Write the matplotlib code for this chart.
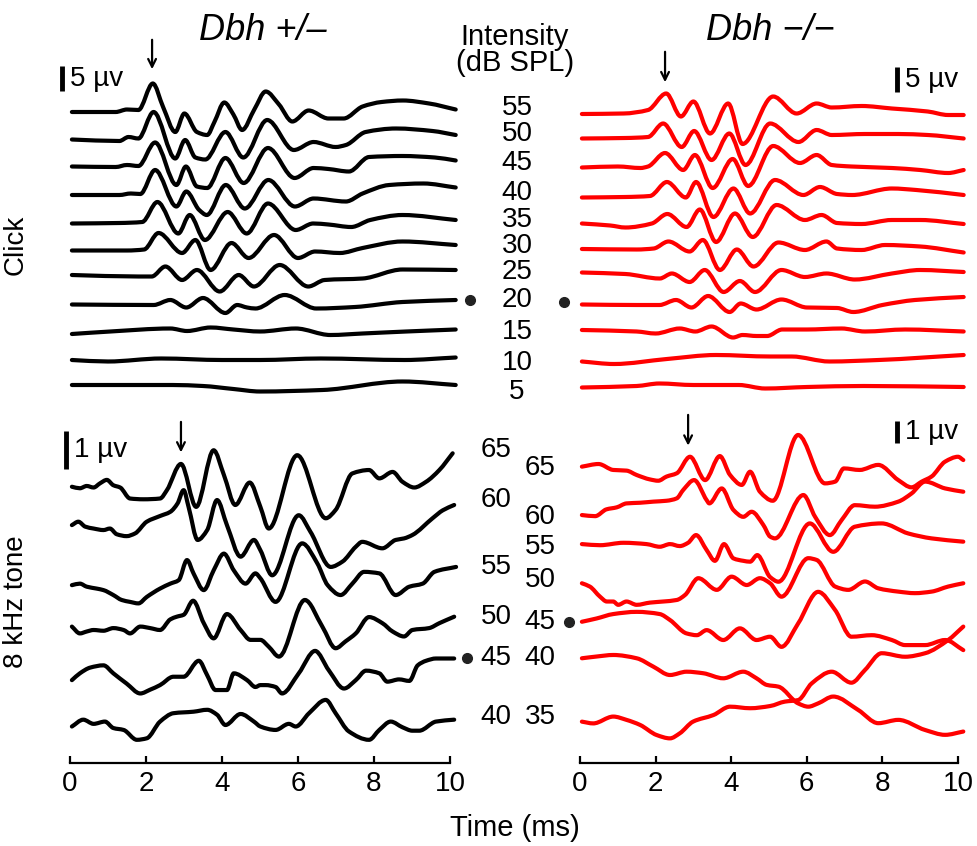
import matplotlib.pyplot as plt
import numpy as np
from matplotlib.path import Path
from matplotlib.patches import PathPatch

plt.rcParams['font.family'] = ['Liberation Sans', 'DejaVu Sans']

# ABR traces: (time in ms, amplitude in uV relative to the trace start)
click_levels = [55, 50, 45, 40, 35, 30, 25, 20, 15, 10, 5]
click_het = [
    [(0.05, 0), (1.2, 0), (1.5, 0.5), (1.8, 0.4), (2.18, 5.7), (2.45, 1.0), (2.77, -4.0), (3.01, -0.3), (3.34, -4.0), (3.61, -4.6), (3.8, -2.0), (4.06, 1.9), (4.3, -0.5), (4.53, -3.6), (4.85, 0.5), (5.15, 4.1), (5.5, 1.5), (5.85, -1.9), (6.28, 0.3), (6.8, -1.3), (7.2, -1.3), (7.7, 1.1), (8.2, 2.0), (8.76, 2.3), (9.45, 1.7), (10.15, 0.5)],
    [(0.05, 0), (1.3, -0.3), (1.54, 0.5), (1.8, 0.2), (2.2, 5.5), (2.77, -3.8), (3.03, -0.1), (3.3, -3.6), (3.56, -4.0), (4.09, 1.5), (4.56, -3.6), (5.19, 3.9), (5.89, -2.1), (6.41, -0.5), (6.99, -1.5), (7.26, -1.1), (7.78, 1.5), (8.58, 2.2), (9.54, 1.7), (10.15, 0.9)],
    [(0.05, 0), (1.2, -0.1), (1.5, 0.3), (1.8, 0.1), (2.24, 4.8), (2.8, -3.7), (3.05, 0), (3.34, -4.0), (3.61, -4.3), (4.09, 1.7), (4.57, -3.3), (5.21, 3.7), (5.91, -2.3), (6.41, -0.3), (6.8, -0.5), (7.34, -1.0), (7.87, 1.9), (8.75, 2.1), (9.6, 1.8), (10.15, 1.2)],
    [(0.05, 0), (1.3, 0), (1.6, 0.3), (1.85, 0.2), (2.24, 5.0), (2.8, -2.3), (3.06, 0.7), (3.4, -3.0), (3.6, -4.0), (4.1, 2.0), (4.6, -2.7), (5.22, 3.0), (5.92, -2.3), (6.41, -0.7), (7.26, -1.3), (7.7, 0.3), (8.4, 2.0), (9.3, 2.3), (10.15, 1.5)],
    [(0.05, 0), (1.3, 0.1), (1.9, 0.3), (2.3, 4.3), (2.85, -2.0), (3.15, 1.7), (3.55, -3.3), (4.15, 2.3), (4.65, -2.0), (5.21, 4.0), (5.94, -1.3), (6.4, 0), (6.8, -0.2), (7.4, -0.7), (7.9, 0.7), (8.75, 1.7), (10.15, 0.7)],
    [(0.05, 0), (1.5, 0), (1.95, 0.2), (2.33, 3.5), (2.95, -0.5), (3.3, 2.1), (3.7, -3.9), (4.25, 1.5), (4.7, -1.5), (5.37, 3.1), (6.0, -1.5), (6.45, -0.2), (7.1, -0.5), (7.7, 0.5), (8.75, 1.8), (10.15, 1.1)],
    [(0.05, 0), (1.8, -0.3), (2.15, -0.3), (2.51, 1.7), (2.95, -1.0), (3.34, 1.0), (3.94, -3.3), (4.44, 0), (4.84, -2.3), (5.52, 2.0), (6.27, -2.3), (6.7, -1.0), (7.7, -0.7), (8.75, 1.1), (10.15, 1.0)],
    [(0.05, 0), (2.2, -0.1), (2.64, 0.9), (3.06, -0.6), (3.5, 1.3), (4.09, -1.7), (4.4, -0.1), (4.66, -0.6), (4.88, -0.8), (5.65, 1.9), (6.48, -0.8), (7.5, -0.5), (8.75, 0.5), (10.15, 0.9)],
    [(0.05, 0), (1.06, 0.5), (2.64, 1.1), (3.08, 0.6), (3.7, 1.3), (4.3, 0.9), (5.0, 0.5), (5.94, 1.1), (6.85, -0.2), (7.7, 0.1), (8.85, 0.5), (10.15, 0.9)],
    [(0.05, 0), (1.0, -0.3), (2.4, 0.3), (4.0, 0), (5.0, 0), (6.6, 0.3), (8.8, 0), (10.15, 0.5)],
    [(0.05, 0), (2.7, 0), (3.5, -0.2), (4.3, -0.8), (5.0, -1.3), (6.64, -1.0), (8.75, 0.7), (10.15, 0)],
]
click_ko = [
    [(0.05, 0), (1.15, 0.1), (1.8, 0.8), (2.28, 4.1), (2.67, -0.5), (3.0, 2.5), (3.44, -3.9), (3.92, 2.1), (4.3, -6.0), (5.11, 3.5), (5.73, 0.1), (6.26, 2.1), (6.66, 1.3), (7.45, 1.6), (8.25, 1.1), (9.2, 0.5), (9.74, -0.2), (10.15, -0.2)],
    [(0.05, 0), (1.2, 0.1), (1.8, 0.3), (2.2, 3.0), (2.69, -1.7), (3.02, 1.5), (3.48, -4.3), (3.95, 1.0), (4.38, -5.3), (5.03, 3.0), (5.78, -0.7), (6.26, 1.7), (6.66, 0.7), (7.54, 0.9), (8.42, 0.9), (9.2, 0.7), (10.15, 0)],
    [(0.05, 0), (1.0, 0.2), (1.6, -0.1), (1.8, 0.2), (2.25, 2.9), (2.73, -0.5), (3.04, 2.5), (3.51, -4.1), (4.04, 1.7), (4.45, -3.7), (5.11, 4.3), (5.82, 0.9), (6.26, 2.5), (6.66, 0.5), (7.18, 0.2), (8.25, -0.1), (9.0, -0.5), (9.74, -1.1), (10.15, -0.5)],
    [(0.05, 0), (1.2, 0.1), (1.85, 0.3), (2.3, 3.1), (2.8, 0), (3.07, 3.1), (3.53, -3.9), (4.06, 1.8), (4.5, -3.2), (5.16, 3.5), (5.91, 0.5), (6.35, 2.1), (6.8, 0.7), (7.2, 0.5), (8.25, 1.8), (8.9, 1.5), (10.15, 0.5)],
    [(0.05, 0), (0.8, -0.4), (1.2, -0.8), (1.9, 0), (2.31, 1.9), (2.82, -0.7), (3.17, 2.8), (3.6, -3.7), (4.1, 2.0), (4.57, -2.7), (5.2, 3.7), (5.95, 0.7), (6.39, 1.7), (6.8, 0.1), (7.45, -0.1), (8.25, 0.7), (9.0, 0.7), (10.15, -0.1)],
    [(0.05, 0), (1.5, -0.1), (1.95, 0.1), (2.34, 1.5), (2.9, -0.5), (3.25, 1.8), (3.7, -4.2), (4.15, -0.1), (4.59, -3.5), (5.25, 1.3), (5.95, -0.2), (6.52, 1.5), (6.8, 0.1), (7.45, -0.2), (8.07, 0.8), (9.0, 0.5), (10.15, -0.7)],
    [(0.05, 0), (1.2, -0.3), (2.11, -1.2), (2.43, -0.2), (2.9, -1.9), (3.3, 0.5), (3.8, -3.9), (4.23, -1.7), (4.63, -3.9), (5.33, 0.5), (5.95, -0.9), (6.52, -0.2), (7.27, -1.4), (8.25, -0.2), (9.0, 0.5), (10.15, 0.1)],
    [(0.05, 0), (1.5, -0.1), (2.1, -0.1), (2.54, 0.9), (2.95, -0.6), (3.39, 1.7), (3.96, -1.5), (4.25, 0.2), (4.67, -1.0), (5.33, 1.0), (6.0, -0.6), (6.8, -0.7), (7.23, -1.5), (8.0, -0.1), (8.86, 0.9), (10.15, 1.5)],
    [(0.05, 0), (1.5, -0.3), (2.0, -0.7), (2.64, 0.3), (3.05, -0.3), (3.48, 0.7), (4.05, -1.5), (4.3, -1.0), (4.67, -1.2), (4.95, -1.2), (5.35, 0.1), (6.0, 0.1), (6.92, 0.3), (7.54, -0.3), (8.6, 0.1), (10.15, -0.3)],
    [(0.05, 0), (0.9, -0.5), (2.3, 0.5), (3.6, 1.3), (5.03, 1.0), (5.6, 1.0), (6.6, 0), (7.9, 0.3), (10.15, 1.3)],
    [(0.05, 0), (1.5, 0.3), (2.1, 0.8), (3.0, 0.5), (4.2, 0.5), (4.9, -0.2), (6.0, 0.1), (7.5, 0.3), (10.15, 0.1)],
]

tone_het_levels = [65, 60, 55, 50, 45, 40]
tone_het = [
    [(0.05, 0), (0.26, -0.04), (0.44, 0.02), (0.62, -0.02), (0.79, 0.09), (0.97, 0.18), (1.14, 0.04), (1.32, -0.02), (1.58, -0.31), (1.93, -0.33), (2.37, -0.31), (2.55, -0.09), (2.92, 0.6), (3.32, -0.53), (3.78, 0.96), (4.05, 0.31), (4.35, -0.48), (4.73, 0.11), (5.01, -0.53), (5.23, -1.10), (5.98, 0.83), (6.73, -0.83), (6.99, -0.61), (7.43, 0.35), (7.87, 0.44), (8.14, 0.22), (8.49, 0.39), (8.75, 0.13), (9.06, -0.02), (9.37, 0.13), (9.72, 0.44), (10.07, 0.88)],
    [(0.05, 0), (0.22, 0.09), (0.40, -0.04), (0.62, -0.09), (0.88, -0.13), (1.05, -0.09), (1.23, -0.24), (1.49, -0.29), (1.71, -0.22), (2.02, 0.09), (2.37, 0.24), (2.64, 0.35), (2.83, 0.57), (2.99, 0.92), (3.12, 0.48), (3.36, -0.39), (3.61, -0.13), (3.87, 0.66), (4.13, 0), (4.49, -0.83), (4.84, -0.39), (5.01, -0.66), (5.32, -1.32), (6.02, 0.26), (6.33, -0.18), (6.86, -1.10), (7.17, -0.96), (7.52, -0.57), (7.69, -0.44), (8.22, -0.61), (8.57, -0.39), (8.79, -0.35), (9.01, -0.26), (9.54, 0.18), (9.81, 0.39), (10.11, 0.53)],
    [(0.05, 0), (0.26, 0.04), (0.44, -0.04), (0.70, -0.09), (0.88, -0.13), (1.14, -0.26), (1.36, -0.39), (1.58, -0.44), (1.80, -0.48), (2.02, -0.31), (2.37, -0.09), (2.64, 0.04), (2.86, 0.13), (3.08, 0.66), (3.25, 0.31), (3.52, -0.13), (3.78, 0.39), (4.05, 0.83), (4.31, 0.39), (4.62, 0.04), (4.88, 0.31), (5.01, 0.18), (5.41, -0.44), (6.11, 1.10), (6.51, 0.57), (6.78, 0), (7.12, -0.26), (7.43, 0.04), (7.74, 0.35), (8.14, 0.31), (8.57, -0.26), (8.93, -0.04), (9.28, 0.04), (9.59, 0.35), (10.16, 0.48)],
    [(0.05, 0), (0.26, -0.18), (0.44, -0.13), (0.62, -0.09), (0.88, -0.11), (1.14, -0.04), (1.41, -0.09), (1.58, -0.18), (1.85, 0), (2.11, -0.04), (2.37, -0.09), (2.64, 0.19), (2.81, 0.26), (2.99, 0.31), (3.24, 0.68), (3.52, 0.09), (3.78, -0.31), (4.13, 0.33), (4.49, -0.09), (4.75, -0.35), (5.01, -0.35), (5.23, -0.53), (5.50, -0.79), (6.18, 0.70), (6.64, 0), (6.99, -0.57), (7.25, -0.39), (7.52, -0.18), (7.87, 0.25), (8.22, 0.09), (8.49, -0.13), (8.79, -0.26), (9.01, -0.09), (9.45, -0.04), (9.72, 0.09), (10.11, 0.26)],
    [(0.05, 0), (0.26, 0.18), (0.53, 0.33), (0.88, 0.39), (1.14, 0.18), (1.49, -0.09), (1.85, -0.35), (2.11, -0.25), (2.37, -0.13), (2.72, 0.09), (2.99, 0.09), (3.39, 0.51), (3.61, 0.13), (3.83, -0.26), (4.13, -0.26), (4.31, 0.18), (4.66, 0), (4.88, -0.18), (5.01, -0.13), (5.15, -0.13), (5.41, -0.18), (5.58, -0.35), (6.02, 0.18), (6.45, 0.77), (6.81, 0.26), (7.21, -0.22), (7.52, 0), (7.79, 0.25), (8.14, 0.18), (8.35, -0.04), (8.66, 0.02), (8.93, -0.02), (9.15, 0.39), (9.37, 0.51), (9.63, 0.57), (10.11, 0.57)],
    [(0.05, 0), (0.35, 0.18), (0.62, 0.07), (0.92, 0.13), (1.14, -0.04), (1.41, -0.09), (1.76, -0.35), (2.02, -0.31), (2.37, 0.13), (2.72, 0.35), (3.25, 0.39), (3.61, 0.44), (3.87, 0.31), (4.09, 0.04), (4.49, 0.33), (4.84, 0.13), (5.01, 0), (5.41, -0.09), (5.76, 0.07), (5.94, 0), (6.29, 0.35), (6.73, 0.70), (6.99, 0.35), (7.34, -0.13), (7.87, -0.35), (8.14, -0.09), (8.44, 0.13), (8.75, -0.02), (9.01, -0.11), (9.19, -0.11), (9.63, 0.13), (10.11, 0.18)],
]

tone_ko_levels = [65, 60, 55, 50, 45, 40, 35]
tone_ko = [
    [(0.05, 0), (0.49, 0.12), (0.88, -0.15), (1.23, -0.18), (1.5, -0.38), (1.85, -0.58), (2.07, -0.64), (2.29, -0.45), (2.56, -0.30), (2.91, 0.45), (3.31, -0.61), (3.70, 0.48), (3.97, -0.38), (4.28, -0.83), (4.50, -0.23), (4.76, -1.14), (5.1, -1.55), (5.77, 1.44), (6.48, -0.76), (6.75, -0.68), (6.98, -0.08), (7.4, -0.15), (7.89, 0.08), (8.42, -0.61), (8.77, -0.94), (9.04, -0.68), (9.30, -0.45), (9.66, 0.23), (10.0, 0.45), (10.14, 0.3)],
    [(0.05, 0), (0.40, -0.05), (0.70, 0.26), (0.97, 0.35), (1.23, 0.53), (1.59, 0.56), (1.94, 0.61), (2.29, 0.65), (2.56, 0.76), (2.73, 1.14), (3.02, 1.59), (3.35, 0.68), (3.42, 0.53), (3.75, 1.21), (4.06, 0.23), (4.32, -0.08), (4.54, 0.15), (4.85, -0.45), (5.03, -0.98), (5.16, -1.06), (5.91, 0.91), (6.22, -0.08), (6.61, -0.91), (6.92, -0.23), (7.27, 0.45), (7.8, 0.38), (8.42, 0.61), (8.77, 0.98), (9.13, 1.52), (9.66, 1.21), (10.14, 1.06)],
    [(0.05, 0), (0.53, -0.05), (1.15, 0.06), (1.76, 0), (2.11, -0.12), (2.38, 0), (2.64, -0.09), (2.86, 0.06), (3.07, 0.41), (3.35, -0.27), (3.57, -0.76), (3.81, 0), (4.06, -0.65), (4.32, -0.76), (4.50, -0.80), (4.69, -0.50), (5.03, -1.5), (5.25, -1.71), (6.08, 0.94), (6.70, -0.35), (7.27, 0.79), (7.98, 0.94), (8.69, 0.48), (9.30, 0.26), (10.14, 0.11)],
    [(0.05, 0), (0.26, -0.15), (0.53, -0.61), (0.71, -0.83), (0.88, -0.83), (1.01, -0.98), (1.23, -0.83), (1.50, -0.98), (1.85, -0.88), (2.20, -0.83), (2.56, -0.76), (2.78, -0.53), (3.13, 0.23), (3.62, -0.30), (4.01, 0.30), (4.41, -0.08), (4.76, 0.23), (5.03, 0), (5.33, -0.61), (6.04, 1.14), (6.26, 1.06), (6.75, -0.15), (7.1, -0.30), (7.54, 0.08), (7.89, -0.23), (8.42, -0.38), (8.86, -0.45), (9.3, -0.38), (9.74, -0.15), (10.14, 0)],
    [(0.05, 0), (0.44, 0.15), (0.88, 0.35), (1.50, 0.45), (2.11, 0.35), (2.38, 0.08), (2.82, -0.53), (3.09, -0.61), (3.35, -0.38), (3.79, -0.83), (4.23, -0.30), (4.67, -0.83), (5.03, -0.68), (5.33, -1.14), (5.77, -0.08), (6.3, 1.36), (6.75, 0.53), (7.18, -0.68), (7.72, -0.61), (8.25, -0.83), (8.6, -1.06), (9.13, -1.06), (9.66, -0.83), (10.14, -1.29)],
    [(0.05, 0), (0.44, 0.08), (0.88, 0.15), (1.5, 0), (1.94, -0.38), (2.38, -0.76), (2.82, -0.61), (3.26, -0.68), (3.79, -0.91), (4.32, -0.61), (4.67, -0.91), (4.94, -1.21), (5.25, -1.29), (5.77, -2.05), (6.04, -2.2), (6.3, -2.05), (6.7, -1.74), (7.36, -2.35), (7.89, -2.95), (8.42, -2.80), (9.13, -3.26), (9.66, -3.48), (10.14, -3.33)],
    [(0.05, 0), (0.35, -0.08), (0.88, 0.23), (1.23, 0.08), (1.59, -0.15), (2.03, -0.61), (2.38, -0.76), (2.64, -0.53), (2.99, 0), (3.53, 0.30), (3.97, 0.68), (4.50, 0.61), (5.03, 0.71), (5.42, 0.91), (5.77, 0.98), (6.13, 1.74), (6.66, 2.27), (7.18, 1.77), (7.54, 2.35), (7.98, 3.11), (8.6, 2.95), (9.13, 3.11), (9.74, 3.71), (10.14, 4.32)],
]

click_threshold = 20
tone_het_threshold = 45
tone_ko_threshold = 45

W, H = 978, 846
fig = plt.figure(figsize=(W / 100, H / 100), dpi=100)


def box(x0, x1, y0, y1):
    # pixel box -> figure fraction
    return [x0 / W, 1 - y1 / H, (x1 - x0) / W, (y1 - y0) / H]


def smooth_path(t, v):
    # cubic Bezier path through every read point (shape-preserving tangents)
    t = np.asarray(t, float)
    v = np.asarray(v, float)
    h = np.diff(t)
    d = np.diff(v) / h
    m = np.zeros_like(v)
    for k in range(1, len(v) - 1):
        if d[k - 1] * d[k] > 0:
            w1 = 2 * h[k] + h[k - 1]
            w2 = h[k] + 2 * h[k - 1]
            m[k] = (w1 + w2) / (w1 / d[k - 1] + w2 / d[k])
    m[0], m[-1] = d[0], d[-1]
    verts = [(t[0], v[0])]
    codes = [Path.MOVETO]
    for k in range(len(h)):
        verts += [(t[k] + h[k] / 3, v[k] + m[k] * h[k] / 3),
                  (t[k + 1] - h[k] / 3, v[k + 1] - m[k + 1] * h[k] / 3),
                  (t[k + 1], v[k + 1])]
        codes += [Path.CURVE4] * 3
    return Path(verts, codes)


# one axes per panel; y in uV with a fixed pixel scale per panel
ax_ch = fig.add_axes(box(70, 450, 40, 400))
ax_ck = fig.add_axes(box(580, 958, 40, 400))
ax_th = fig.add_axes(box(70, 450, 405, 763))
ax_tk = fig.add_axes(box(580, 958, 405, 763))
ax_ch.set_ylim(0, 360 / 5)
ax_ck.set_ylim(0, 360 / 5)
ax_th.set_ylim(0, 358 / 38)
ax_tk.set_ylim(0, 358 / 22)

# overlay in pixel coordinates for the labels in the middle
ov = fig.add_axes([0, 0, 1, 1])
ov.set_xlim(0, W)
ov.set_ylim(H, 0)
ov.axis('off')
ov.patch.set_alpha(0)

# trace baselines (uV above the panel bottom)
base_ch = [57.6, 52.1, 46.7, 41.0, 35.3, 29.9, 25.0, 19.1, 13.2, 8.0, 3.0]
base_ck = [57.2, 52.3, 46.5, 40.5, 35.3, 30.2, 25.5, 19.1, 14.0, 7.7, 2.5]
base_th = [7.27, 6.26, 4.68, 3.59, 2.18, 0.96]
base_tk = [13.47, 11.27, 9.95, 8.17, 6.42, 4.76, 1.88]

panels = [(ax_ch, click_het, base_ch, 'black'), (ax_ck, click_ko, base_ck, '#ff0000'),
          (ax_th, tone_het, base_th, 'black'), (ax_tk, tone_ko, base_tk, '#ff0000')]
for ax, traces, bases, col in panels:
    for trace, b in zip(traces, bases):
        t = [p[0] for p in trace]
        v = np.array([p[1] for p in trace]) + b
        ax.add_patch(PathPatch(smooth_path(t, v), fill=False, edgecolor=col, lw=3,
                               joinstyle='round', capstyle='round', clip_on=False))
    ax.set_xlim(0, 10)
    ax.patch.set_alpha(0)
    for s in ['left', 'right', 'top']:
        ax.spines[s].set_visible(False)
    ax.set_yticks([])

for ax in [ax_ch, ax_ck]:
    ax.spines['bottom'].set_visible(False)
    ax.set_xticks([])

for ax in [ax_th, ax_tk]:
    ax.spines['bottom'].set_linewidth(1.6)
    ax.set_xticks(range(0, 11, 2))
    ax.tick_params(axis='x', direction='in', length=5, width=1.6, pad=6, labelsize=20)

# scale bars
ax_ch.plot([-0.2, -0.2], [61.8, 66.8], color='k', lw=3.5, solid_capstyle='butt', clip_on=False)
ax_ch.text(0.0, 64.3, '5 µv', fontsize=20, va='center', ha='left')
ax_ck.plot([8.39, 8.39], [61.6, 66.6], color='k', lw=3.5, solid_capstyle='butt', clip_on=False)
ax_ck.text(8.6, 64.1, '5 µv', fontsize=20, va='center', ha='left')
ax_th.plot([-0.1, -0.1], [7.74, 8.74], color='k', lw=3.5, solid_capstyle='butt', clip_on=False)
ax_th.text(0.1, 8.24, '1 µv', fontsize=20, va='center', ha='left')
ax_tk.plot([8.39, 8.39], [14.55, 15.55], color='k', lw=3.5, solid_capstyle='butt', clip_on=False)
ax_tk.text(8.6, 15.05, '1 µv', fontsize=20, va='center', ha='left')

# wave I arrows
arrow = dict(arrowstyle='->', lw=1.6, color='k', mutation_scale=14)
ax_ch.annotate('', xy=(2.16, 65.6), xytext=(2.16, 72.6), arrowprops=arrow, annotation_clip=False)
ax_ck.annotate('', xy=(2.25, 63.0), xytext=(2.25, 70.2), arrowprops=arrow, annotation_clip=False)
ax_th.annotate('', xy=(2.92, 8.1), xytext=(2.92, 9.05), arrowprops=arrow, annotation_clip=False)
ax_tk.annotate('', xy=(2.86, 14.3), xytext=(2.86, 15.95), arrowprops=arrow, annotation_clip=False)

# titles and labels
ov.text(263, 30, 'Dbh +/–', fontsize=26, style='italic', ha='center', va='center')
ov.text(770, 30, 'Dbh −/−', fontsize=26, style='italic', ha='center', va='center')
ov.text(515, 50, 'Intensity\n(dB SPL)', fontsize=21, ha='center', va='center', linespacing=0.95)
ov.text(16, 245, 'Click', fontsize=20, rotation=90, ha='center', va='center')
ov.text(16, 602, '8 kHz tone', fontsize=20, rotation=90, ha='center', va='center')
ov.text(515, 828, 'Time (ms)', fontsize=21, ha='center', va='center')

click_label_y = [108, 134, 163, 193, 220, 246, 272, 300, 332, 363, 392]
for lev, y in zip(click_levels, click_label_y):
    ov.text(517, y, str(lev), fontsize=20, ha='center', va='center')
    if lev == click_threshold:
        ov.plot([470, 564], [y, y + 2], 'o', color='#222222', ms=7, clip_on=False)

het_label_y = [450, 500, 567, 617, 658, 717]
for lev, y in zip(tone_het_levels, het_label_y):
    ov.text(496, y, str(lev), fontsize=20, ha='center', va='center')
    if lev == tone_het_threshold:
        ov.plot([467], [y], 'o', color='#222222', ms=7, clip_on=False)

ko_label_y = [468, 517, 547, 580, 622, 658, 717]
for lev, y in zip(tone_ko_levels, ko_label_y):
    ov.text(540, y, str(lev), fontsize=20, ha='center', va='center')
    if lev == tone_ko_threshold:
        ov.plot([569], [y], 'o', color='#222222', ms=7, clip_on=False)

fig.savefig('out.png', dpi=100)
